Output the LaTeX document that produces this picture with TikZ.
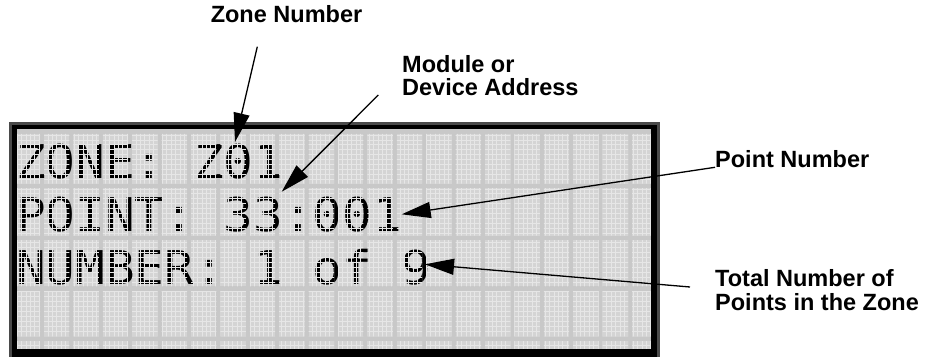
\documentclass[tikz,border=0pt]{standalone}
\usepackage{fontspec}
\setmainfont{Liberation Sans}
\newfontfamily\lcdfont[FakeStretch=1.06]{DejaVu Sans Mono}
\usetikzlibrary{arrows.meta}
\definecolor{framegray}{HTML}{4A4A4A}
\definecolor{cellgray}{HTML}{D4D4D4}
\definecolor{linegray}{HTML}{C8C8C8}
\definecolor{meshgray}{HTML}{E6E6E6}
\begin{document}
\begin{tikzpicture}[x=1pt,y=-1pt,
  callout/.style={font=\bfseries\fontsize{23.5}{23}\selectfont, inner sep=0pt, anchor=base west},
  lcd/.style={font=\lcdfont\fontsize{46.5}{48}\selectfont, inner sep=0pt, anchor=base west},
  mesh/.style={draw=meshgray, line width=0.6pt},
  pointer/.style={line width=1.3pt, -{Triangle[length=29pt,width=16pt]}}]
\useasboundingbox (0,0) rectangle (925,356);
% LCD frame
\fill[framegray] (9,122) rectangle (660,360);
\fill[black] (12,125) rectangle (657,360);
\fill[cellgray] (17,130) rectangle (651,349);
% character grid
\foreach \yy in {131.5,185.8,237.8,288.7,338.7}
  \fill[linegray] (17,\yy-2.3) rectangle (651,\yy+2.3);
\foreach \k in {0,...,20}
  \fill[linegray] ({42+29.4*\k-2},130) rectangle ({42+29.4*\k+2},349);
% display text
\node[lcd] (row1) at (16,178) {ZONE: Z01};
\node[lcd] (row2) at (16,231) {POINT: 33:001};
\node[lcd] (row3) at (16,284) {NUMBER: 1 of 9};
% dot-matrix texture inside the character cells
\begin{scope}
  \clip \foreach \k in {-1,...,20} {({max(17,42+29.4*\k+2)},130) rectangle ({min(651,42+29.4*(\k+1)-2)},349)};
  \begin{scope}
    \clip (17,133.8) rectangle (651,183.5)
          (17,188.1) rectangle (651,235.5)
          (17,240.1) rectangle (651,286.4)
          (17,291.0) rectangle (651,336.4)
          (17,341.0) rectangle (651,349);
    \foreach \i in {0,...,144}
      \draw[mesh] ({17+4.4*\i},130) -- ({17+4.4*\i},349);
    \foreach \j in {0,...,45}
      \draw[mesh] (17,{130+4.9*\j}) -- (651,{130+4.9*\j});
  \end{scope}
\end{scope}
% callout labels
\node[callout, anchor=base] (zl) at (286.5,22.7) {Zone Number};
\node[callout] (ml1) at (402,72) {Module or};
\node[callout] (ml2) at (402,95) {Device Address};
\node[callout] (pl) at (715,167.3) {Point Number};
\node[callout] (tl1) at (715,286) {Total Number of};
\node[callout] (tl2) at (715,310) {Points in the Zone};
% arrow end points
\coordinate (zs) at (257.3,46.7);
\coordinate (zt) at (235,142);
\coordinate (ms) at (378.3,95);
\coordinate (mt) at (281.7,191.7);
\coordinate (pt) at (401.7,214.3);
\coordinate (ts) at (690,287);
\coordinate (tt) at (425,264.3);
% connectors
\draw[pointer] (zs) -- (zt);
\draw[pointer] (ms) -- (mt);
\draw[pointer] (pl.base west) -- (pt);
\draw[pointer] (ts) -- (tt);
\end{tikzpicture}
\end{document}
